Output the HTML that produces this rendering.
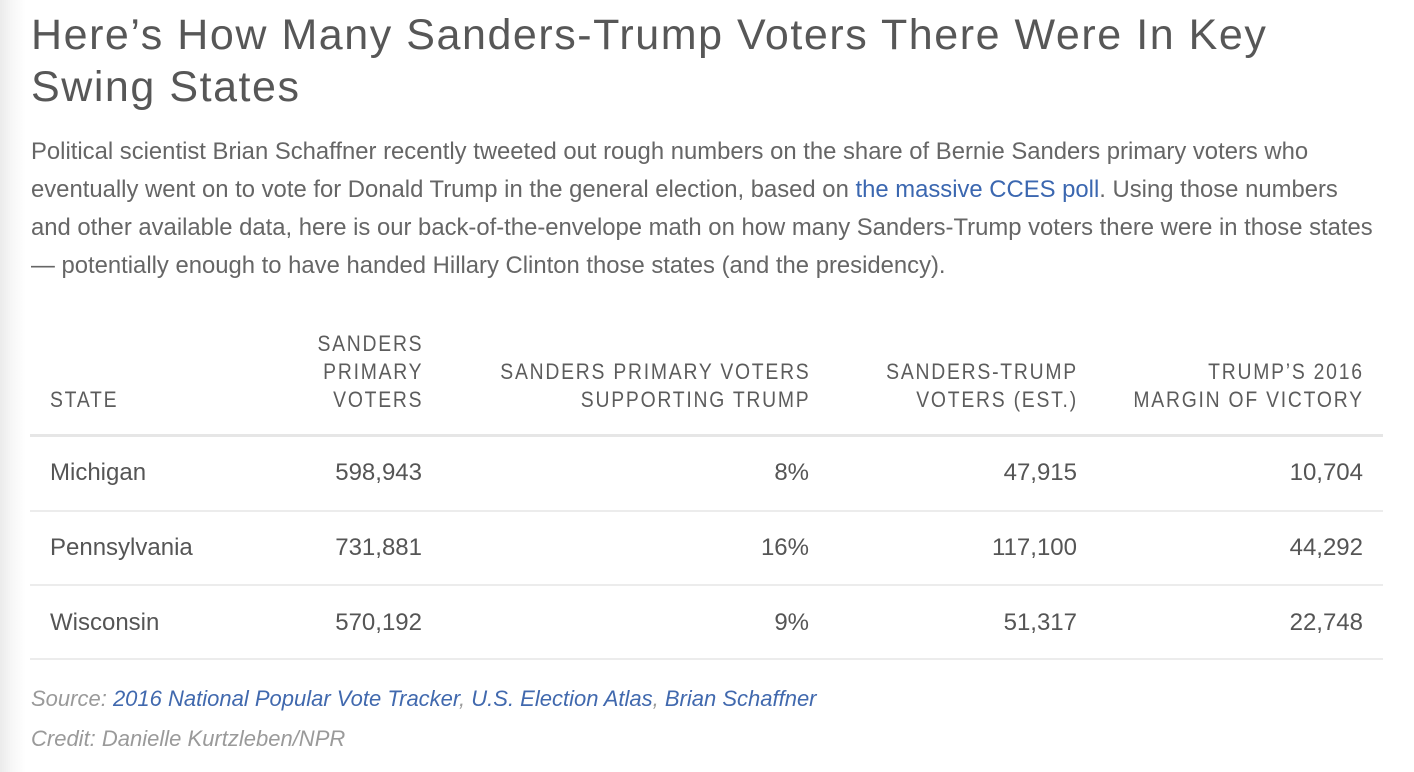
<!DOCTYPE html>
<html>
<head>
<meta charset="utf-8">
<style>
  html,body{margin:0;padding:0;}
  body{
    width:1414px;height:772px;overflow:hidden;position:relative;
    background:linear-gradient(to right,#ebebeb 0px,#f7f7f7 12px,#ffffff 26px,#ffffff 100%);
    font-family:"Liberation Sans",Arial,sans-serif;
  }
  .abs{position:absolute;white-space:nowrap;}
  .title{left:31px;top:9px;font-size:43px;line-height:52px;color:#575757;letter-spacing:1.55px;}
  .para{left:31px;top:133px;font-size:23.85px;line-height:38px;color:#666;}
  .para a{color:#3b67b0;text-decoration:none;}
  .hdr{font-size:22px;line-height:28px;color:#5c5c5c;text-align:right;}
  .hdr span{display:inline-block;transform:scaleX(.88);transform-origin:right center;letter-spacing:2px;margin-right:-1px;text-align:right;}
  .hdrl{font-size:22px;line-height:28px;color:#5c5c5c;}
  .hdrl span{display:inline-block;transform:scaleX(.88);transform-origin:left center;letter-spacing:2px;}
  .rule{position:absolute;left:30px;width:1353px;}
  .cell{font-size:24px;line-height:40px;color:#555;}
  .r{text-align:right;}
  .src{left:31px;font-size:22px;line-height:30px;font-style:italic;color:#9a9a9a;}
  .src a{color:#4169ae;text-decoration:none;}
</style>
</head>
<body>

<div class="abs title">Here’s How Many Sanders-Trump Voters There Were In Key<br>Swing States</div>

<div class="abs para">Political scientist Brian Schaffner recently tweeted out rough numbers on the share of Bernie Sanders primary voters who<br>eventually went on to vote for Donald Trump in the general election, based on <a>the massive CCES poll</a>. Using those numbers<br>and other available data, here is our back-of-the-envelope math on how many Sanders-Trump voters there were in those states<br>— potentially enough to have handed Hillary Clinton those states (and the presidency).</div>

<!-- Header -->
<div class="abs hdrl" style="left:50px;top:386px;"><span>STATE</span></div>
<div class="abs hdr" style="right:992px;top:330px;"><span>SANDERS<br>PRIMARY<br>VOTERS</span></div>
<div class="abs hdr" style="right:605px;top:358px;"><span>SANDERS PRIMARY VOTERS<br>SUPPORTING TRUMP</span></div>
<div class="abs hdr" style="right:337px;top:358px;"><span>SANDERS-TRUMP<br>VOTERS (EST.)</span></div>
<div class="abs hdr" style="right:51px;top:358px;"><span>TRUMP’S 2016<br>MARGIN OF VICTORY</span></div>

<div class="rule" style="top:434px;height:3px;background:#e6e6e6;"></div>

<!-- Row 1 -->
<div class="abs cell" style="left:50px;top:453px;">Michigan</div>
<div class="abs cell r" style="right:992px;top:453px;">598,943</div>
<div class="abs cell r" style="right:605px;top:453px;">8%</div>
<div class="abs cell r" style="right:337px;top:453px;">47,915</div>
<div class="abs cell r" style="right:51px;top:453px;">10,704</div>

<div class="rule" style="top:510px;height:2px;background:#ececec;"></div>

<!-- Row 2 -->
<div class="abs cell" style="left:50px;top:528px;">Pennsylvania</div>
<div class="abs cell r" style="right:992px;top:528px;">731,881</div>
<div class="abs cell r" style="right:605px;top:528px;">16%</div>
<div class="abs cell r" style="right:337px;top:528px;">117,100</div>
<div class="abs cell r" style="right:51px;top:528px;">44,292</div>

<div class="rule" style="top:584px;height:2px;background:#ececec;"></div>

<!-- Row 3 -->
<div class="abs cell" style="left:50px;top:603px;">Wisconsin</div>
<div class="abs cell r" style="right:992px;top:603px;">570,192</div>
<div class="abs cell r" style="right:605px;top:603px;">9%</div>
<div class="abs cell r" style="right:337px;top:603px;">51,317</div>
<div class="abs cell r" style="right:51px;top:603px;">22,748</div>

<div class="rule" style="top:658px;height:2px;background:#ececec;"></div>

<div class="abs src" style="top:684px;">Source: <a>2016 National Popular Vote Tracker</a>, <a>U.S. Election Atlas</a>, <a>Brian Schaffner</a></div>
<div class="abs src" style="top:724px;">Credit: Danielle Kurtzleben/NPR</div>

</body>
</html>
